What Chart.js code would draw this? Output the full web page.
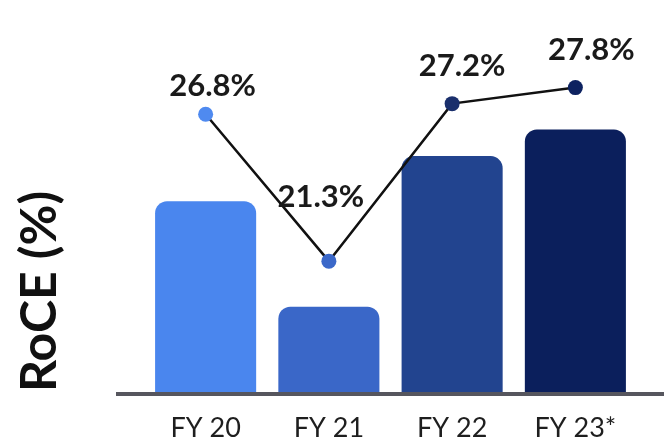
<!DOCTYPE html>
<html>
<head>
<meta charset="utf-8">
<script src="https://cdn.jsdelivr.net/npm/chart.js@4.4.0/dist/chart.umd.min.js"></script>
<style>
  body { margin: 0; background: #fff; }
  #wrap { width: 664px; height: 445px; }
</style>
</head>
<body>
<div id="wrap"><canvas id="roceChart"></canvas></div>
<script>
// dados
const years = ["FY 20", "FY 21", "FY 22", "FY 23*"];
const roce = [26.8, 21.3, 27.2, 27.8];          // linha (%)
const barHeights = [48.5, 21.7, 60, 66.8];      // barras, escala relativa 0-100 (sem rótulo)
const barColors = ["#4a86ee", "#3a67c8", "#22448f", "#0b1f5c"];
const pointColors = ["#4f8af0", "#3b68c9", "#1a2f6c", "#0d2260"];

// posição dos rótulos relativa a cada ponto
const labelOffsets = [[7, -28], [-8, -64], [10, -38], [16, -38]];

const baseLine = {
    id: "baseLine",
    beforeDatasetsDraw(chart) {
        const c = chart.ctx;
        const a = chart.chartArea;
        c.save();
        c.strokeStyle = "#56565e";
        c.lineWidth = 4;
        c.beginPath();
        c.moveTo(116, a.bottom + 2);
        c.lineTo(chart.width, a.bottom + 2);
        c.stroke();
        c.restore();
    }
};

const pointLabels = {
    id: "pointLabels",
    afterDatasetsDraw(chart) {
        const c = chart.ctx;
        const meta = chart.getDatasetMeta(1);
        c.save();
        c.font = "bold 31px Lato";
        c.fillStyle = "#1a1a1a";
        c.textAlign = "center";
        c.textBaseline = "middle";
        meta.data.forEach((pt, i) => {
            c.fillText(roce[i].toFixed(1) + "%", pt.x + labelOffsets[i][0], pt.y + labelOffsets[i][1]);
        });
        c.restore();
    }
};

const ctx = document.getElementById("roceChart").getContext("2d");
const chart = new Chart(ctx, {
    data: {
        labels: years,
        datasets: [{
            type: "bar",
            data: barHeights,
            backgroundColor: barColors,
            borderRadius: 12,
            categoryPercentage: 1,
            barPercentage: 0.82,
            yAxisID: "y",
            order: 1
        }, {
            type: "line",
            data: roce,
            borderColor: "#111111",
            borderWidth: 2.5,
            pointRadius: 7.5,
            pointBackgroundColor: pointColors,
            pointBorderWidth: 0,
            tension: 0,
            yAxisID: "y2",
            order: 0
        }]
    },
    options: {
        responsive: true,
        maintainAspectRatio: false,
        animation: false,
        layout: { padding: { left: 8, right: 27, top: 0, bottom: 2 } },
        plugins: {
            legend: { display: false },
            tooltip: { enabled: false }
        },
        scales: {
            x: {
                grid: { display: false, drawTicks: false },
                border: { display: false },
                ticks: {
                    color: "#1e1e1e",
                    font: { family: "Lato", size: 27 },
                    padding: 20
                },
                afterFit(scale) { scale.height = 51; }
            },
            y: {
                min: 0,
                max: 97.8,
                grid: { display: false, drawTicks: false },
                border: { display: false },
                ticks: { display: false },
                title: {
                    display: true,
                    text: "RoCE (%)",
                    align: "start",
                    color: "#111111",
                    font: { family: "Lato", size: 50, weight: "bold" },
                    padding: { top: 2, bottom: 74 }
                }
            },
            y2: {
                display: false,
                min: 16.4,
                max: 30.8
            }
        }
    },
    plugins: [baseLine, pointLabels]
});
</script>
</body>
</html>
